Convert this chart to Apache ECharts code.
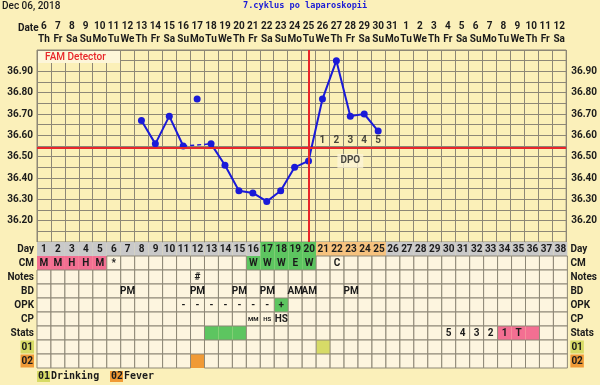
<!DOCTYPE html>
<html><head><meta charset="utf-8">
<script src="https://cdn.jsdelivr.net/npm/echarts@6/dist/echarts.min.js"></script>
<style>html,body{margin:0;padding:0;background:#fbf0ba;}#c{width:600px;height:385px;}</style>
</head><body><div id="c"></div>
<script>
// ---------- data ----------
const cycleDays = ['1','2','3','4','5','6','7','8','9','10','11','12','13','14','15','16','17','18','19','20','21','22','23','24','25','26','27','28','29','30','31','32','33','34','35','36','37','38'];
const dates = [6,7,8,9,10,11,12,13,14,15,16,17,18,19,20,21,22,23,24,25,26,27,28,29,30,31,1,2,3,4,5,6,7,8,9,10,11,12];
const weekdays = ['Th','Fr','Sa','Su','Mo','Tu','We','Th','Fr','Sa','Su','Mo','Tu','We','Th','Fr','Sa','Su','Mo','Tu','We','Th','Fr','Sa','Su','Mo','Tu','We','Th','Fr','Sa','Su','Mo','Tu','We','Th','Fr','Sa'];
const temps = [null,null,null,null,null,null,null,36.67,36.56,36.69,36.55,null,36.56,36.46,36.34,36.33,36.29,36.34,36.45,36.48,36.77,36.95,36.69,36.70,36.62,null,null,null,null,null,null,null,null,null,null,null,null,null];
const discardedTemps = [[12, 36.77]];          // [cycle day, temp]
const dashedBridge = [[11, 36.55], [13, 36.56]]; // [cycle day, temp]
const coverline = 36.54;
const ovulationDay = 20;
const dpoDays = [21,22,23,24,25];
const dpoLabels = ['1','2','3','4','5'];
const yTicks = [36.20,36.30,36.40,36.50,36.60,36.70,36.80,36.90];

const rowNames = ['Day','CM','Notes','BD','OPK','CP','Stats','01','02'];
// [cycle day, text] per row
const cmRow = [[1,'M'],[2,'M'],[3,'H'],[4,'H'],[5,'M'],[6,'*'],[16,'W'],[17,'W'],[18,'W'],[19,'E'],[20,'W'],[22,'C']];
const notesRow = [[12,'#']];
const bdRow = [[7,'PM'],[12,'PM'],[15,'PM'],[17,'PM'],[19,'AM'],[20,'AM'],[23,'PM']];
const opkRow = [[11,'-'],[12,'-'],[13,'-'],[14,'-'],[15,'-'],[16,'-'],[17,'-'],[18,'+']];
const cpRow = [[16,'MM'],[17,'HS'],[18,'HS']];
const statsRow = [[30,'5'],[31,'4'],[32,'3'],[33,'2'],[34,'1'],[35,'T']];
// coloured cells: [row, first day, last day, colour key]
const colouredCells = [
  ['Day',1,16,'gray'],['Day',17,20,'green'],['Day',21,25,'peach'],['Day',26,38,'gray'],
  ['CM',1,5,'pink'],['CM',16,20,'green'],
  ['OPK',18,18,'green'],
  ['Stats',13,15,'green'],['Stats',34,36,'pink'],
  ['01',21,21,'lime'],
  ['02',12,12,'orange']
];

// ---------- styles ----------
const C = {gray:'#c9c9c9', green:'#5dc560', peach:'#f6c27e', pink:'#f36f92', lime:'#d7db67', orange:'#f09a36'};
const cream = '#fdf5df';
const gridCol = '#8d8776';
const txt = '#1b1b1b';
const FONT = 'Roboto, "DejaVu Sans", sans-serif';

// ---------- build table ----------
const colourMap = {};
colouredCells.forEach(([row, a, b, key]) => { for (let d = a; d <= b; d++) colourMap[row + '|' + d] = C[key]; });
const rowText = {Day: cycleDays.map((t, i) => [i + 1, t]), CM: cmRow, Notes: notesRow, BD: bdRow, OPK: opkRow, CP: cpRow, Stats: statsRow};
const colouredData = [], creamData = [], textData = [];
rowNames.forEach((row, r) => {
  cycleDays.forEach((d, i) => {
    const col = colourMap[row + '|' + (i + 1)];
    if (col) colouredData.push([i, r, col]); else creamData.push([i, r, cream]);
  });
  (rowText[row] || []).forEach(([d, t]) => {
    const small = row === 'CP' && d < 18;
    textData.push([d - 1, r, t, small ? 1 : 0]);
  });
});

function cellRender(list, stroke) {
  return function (params, api) {
    const item = list[params.dataIndex];
    const p = api.coord([item[0], item[1]]);
    const s = api.size([1, 1]);
    return {type: 'rect', shape: {x: p[0] - s[0] / 2, y: p[1] - s[1] / 2, width: s[0], height: s[1]},
      style: {fill: item[2], stroke: stroke ? gridCol : null, lineWidth: stroke ? 1 : 0}};
  };
}

const chart = echarts.init(document.getElementById('c'));
const idx = cycleDays.map((_, i) => i);
const yFmt = v => { const f = yTicks.find(t => Math.abs(t - v) < 0.001); return f ? f.toFixed(2) : ''; };
const richRow = {a: {backgroundColor: C.lime, padding: [2, 1, 1, 1], fontSize: 10, fontWeight: 'bold', color: txt, fontFamily: FONT},
                 b: {backgroundColor: C.orange, padding: [2, 1, 1, 1], fontSize: 10, fontWeight: 'bold', color: txt, fontFamily: FONT}};
const rowFmt = v => v === '01' ? '{a|01}' : v === '02' ? '{b|02}' : v;
const topAxis = (labels, margin) => ({gridIndex: 0, type: 'category', data: idx, position: 'top', boundaryGap: true,
  axisTick: {show: false}, axisLine: {show: false}, splitLine: {show: false},
  axisLabel: {interval: 0, margin: margin, fontSize: 10, fontWeight: 'bold', color: txt, fontFamily: FONT,
    formatter: (v, i) => String(labels[i])}});

chart.setOption({
  backgroundColor: '#fbf0ba',
  animation: false,
  title: [
    {text: 'Dec 06, 2018', left: 2, top: 1, padding: 0, textStyle: {fontSize: 10, fontWeight: 500, color: txt, fontFamily: FONT}},
    {text: '7.cyklus po laparoskopii', left: 243, top: 1, padding: 0, textStyle: {fontSize: 8.6, fontWeight: 'bold', color: '#1b1bd6', fontFamily: '"DejaVu Sans Mono", monospace'}}
  ],
  grid: [
    {left: 37, top: 50, width: 536, height: 192, show: true, backgroundColor: '#fbf0b8', borderColor: gridCol, borderWidth: 1},
    {left: 37, top: 242, width: 536, height: 126, show: false}
  ],
  xAxis: [
    {gridIndex: 0, type: 'category', data: idx, position: 'bottom', boundaryGap: true,
      axisLabel: {show: false}, axisTick: {show: false}, axisLine: {show: false},
      splitLine: {show: true, interval: 0, lineStyle: {color: gridCol, width: 1}}},
    topAxis(weekdays, 6),
    topAxis(dates, 19),
    {gridIndex: 1, type: 'category', data: idx, boundaryGap: true,
      axisLabel: {show: false}, axisTick: {show: false}, axisLine: {show: false}, splitLine: {show: false}}
  ],
  yAxis: [
    {gridIndex: 0, type: 'value', min: 36.10, max: 37.00, interval: 0.05, position: 'left',
      axisLine: {show: false}, axisTick: {show: false},
      splitLine: {show: true, lineStyle: {color: gridCol, width: 1}},
      axisLabel: {margin: 4, fontSize: 10, fontWeight: 'bold', color: txt, fontFamily: FONT, formatter: yFmt}},
    {gridIndex: 0, type: 'value', min: 36.10, max: 37.00, interval: 0.05, position: 'right',
      axisLine: {show: false}, axisTick: {show: false}, splitLine: {show: false},
      axisLabel: {margin: 5, fontSize: 10, fontWeight: 'bold', color: txt, fontFamily: FONT, formatter: yFmt}},
    {gridIndex: 1, type: 'category', data: rowNames, inverse: true, position: 'left',
      axisLine: {show: false}, axisTick: {show: false}, splitLine: {show: false},
      axisLabel: {margin: 3, fontSize: 10, fontWeight: 'bold', color: txt, fontFamily: FONT, formatter: rowFmt, rich: richRow}},
    {gridIndex: 1, type: 'category', data: rowNames, inverse: true, position: 'right',
      axisLine: {show: false}, axisTick: {show: false}, splitLine: {show: false},
      axisLabel: {margin: 3, fontSize: 10, fontWeight: 'bold', color: txt, fontFamily: FONT, formatter: rowFmt, rich: richRow}}
  ],
  graphic: [
    {type: 'rect', left: 38, top: 51, shape: {width: 82, height: 12}, style: {fill: '#fdf6d9'}, z: 10},
    {type: 'text', left: 45, top: 52, style: {text: 'FAM Detector', fill: '#e8262a', font: '500 10px ' + FONT}, z: 11},
    {type: 'text', left: 18, top: 23, style: {text: 'Date', fill: txt, font: 'bold 10px ' + FONT}},
    {type: 'rect', left: 37, top: 371, shape: {width: 13, height: 11}, style: {fill: C.lime}},
    {type: 'text', left: 38, top: 371, style: {text: '01', fill: txt, font: 'bold 10px "DejaVu Sans Mono", monospace'}},
    {type: 'text', left: 51, top: 371, style: {text: 'Drinking', fill: txt, font: 'bold 10px "DejaVu Sans Mono", monospace'}},
    {type: 'rect', left: 110, top: 371, shape: {width: 13, height: 11}, style: {fill: C.orange}},
    {type: 'text', left: 111, top: 371, style: {text: '02', fill: txt, font: 'bold 10px "DejaVu Sans Mono", monospace'}},
    {type: 'text', left: 124, top: 371, style: {text: 'Fever', fill: txt, font: 'bold 10px "DejaVu Sans Mono", monospace'}}
  ],
  series: [
    {type: 'line', xAxisIndex: 0, yAxisIndex: 0, data: dashedBridge.map(([d, t]) => [d - 1, t]),
      showSymbol: false, lineStyle: {color: '#1a1ad8', width: 1.5, type: [4, 3]}, z: 3},
    {type: 'line', xAxisIndex: 0, yAxisIndex: 0, data: temps, connectNulls: false,
      symbol: 'circle', symbolSize: 7, itemStyle: {color: '#1a1ad8'}, lineStyle: {color: '#1a1ad8', width: 2}, z: 4,
      markLine: {silent: true, symbol: 'none', label: {show: false}, lineStyle: {color: '#e8262a', width: 2, type: 'solid'},
        data: [{yAxis: coverline}, {xAxis: ovulationDay - 1}]}},
    {type: 'scatter', xAxisIndex: 0, yAxisIndex: 0, data: discardedTemps.map(([d, t]) => [d - 1, t]),
      symbol: 'circle', symbolSize: 7, itemStyle: {color: '#1a1ad8', opacity: 1}, z: 4},
    {type: 'scatter', xAxisIndex: 0, yAxisIndex: 0, symbolSize: 0, z: 5,
      data: dpoDays.map((d, i) => ({value: [d - 1, 36.575], label: {formatter: dpoLabels[i]}})),
      label: {show: true, position: 'inside', fontSize: 10, fontWeight: 'bold', color: txt, fontFamily: FONT}},
    {type: 'scatter', xAxisIndex: 0, yAxisIndex: 0, symbolSize: 0, z: 5,
      data: [{value: [dpoDays[2] - 1, 36.48]}],
      label: {show: true, position: 'inside', formatter: 'DPO', fontSize: 10, fontWeight: 'bold', color: txt, fontFamily: FONT,
        backgroundColor: '#fcf4d6', padding: [2, 3]}},
    {type: 'custom', xAxisIndex: 3, yAxisIndex: 2, data: colouredData.map(d => [d[0], d[1]]), renderItem: cellRender(colouredData, false), z: 2},
    {type: 'custom', xAxisIndex: 3, yAxisIndex: 2, data: creamData.map(d => [d[0], d[1]]), renderItem: cellRender(creamData, true), z: 3},
    {type: 'custom', xAxisIndex: 3, yAxisIndex: 2, data: textData.map(d => [d[0], d[1]]), z: 4,
      renderItem: function (params, api) {
        const item = textData[params.dataIndex];
        const p = api.coord([item[0], item[1]]);
        return {type: 'text', style: {text: item[2], x: p[0], y: p[1] + 0.5, align: 'center', verticalAlign: 'middle',
          fill: txt, font: (item[3] === 1 ? 'bold 6px ' : 'bold 10px ') + FONT}};
      }}
  ]
});
</script></body></html>
